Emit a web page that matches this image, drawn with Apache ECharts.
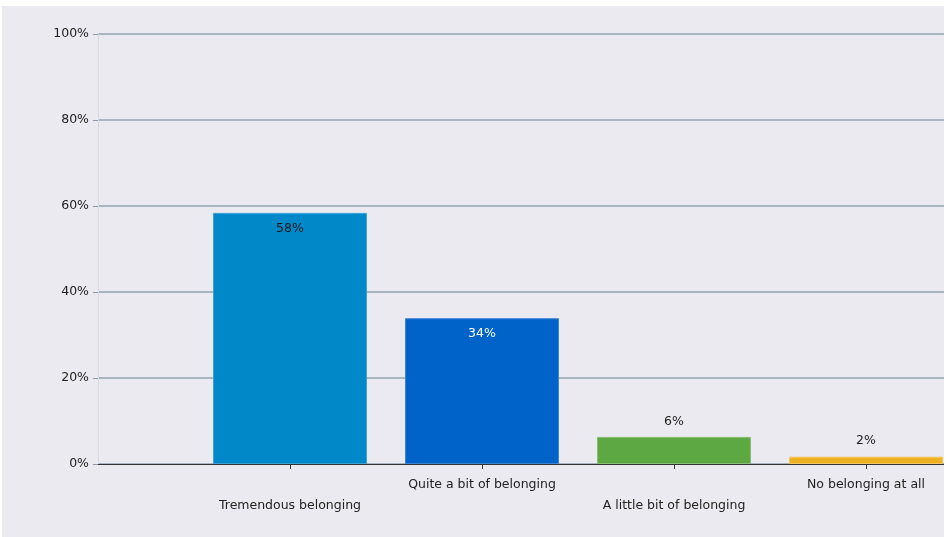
<!DOCTYPE html>
<html>
<head>
<meta charset="utf-8">
<script src="https://cdn.jsdelivr.net/npm/echarts@6/dist/echarts.min.js"></script>
<style>
html,body{margin:0;padding:0;background:#ffffff;width:950px;height:537px;overflow:hidden;}
#wrap{position:absolute;left:2px;top:6px;width:942px;height:531px;overflow:hidden;background:#EBEAF0;}
#chart{position:absolute;left:0;top:0;width:960px;height:531px;}
</style>
</head>
<body>
<div id="wrap"><div id="chart"></div></div>
<script>
// Data
const categories = ['Tremendous belonging', 'Quite a bit of belonging', 'A little bit of belonging', 'No belonging at all'];
const values = [58.4, 33.9, 6.3, 1.7];
const yTicks = [0, 20, 40, 60, 80, 100];

// Styles
const barColors = ['#0088C8', '#0063C9', '#5EA843', '#EEB122'];
const borderColors = ['#3AA3D8', '#3A86D9', '#86C070', '#F3C75E'];
const labelColors = ['#1a1a1a', '#ffffff', '#222222', '#222222'];

const chart = echarts.init(document.getElementById('chart'), null, {renderer: 'canvas'});
const font = 'DejaVu Sans';

const seriesData = values.map((v, i) => ({
  value: [i + 1, v],
  itemStyle: {color: barColors[i], borderColor: borderColors[i], borderWidth: 1},
  label: {
    show: true,
    position: v > 20 ? 'insideTop' : 'top',
    distance: 9,
    color: labelColors[i],
    fontFamily: font,
    fontSize: 12.5,
    formatter: Math.round(v) + '%'
  }
}));

chart.setOption({
  animation: false,
  grid: {left: 96, right: 0, top: 28, bottom: 73, containLabel: false},
  xAxis: {
    type: 'value',
    min: 0,
    max: 4.5,
    interval: 1,
    splitLine: {show: false},
    axisLine: {show: true, lineStyle: {color: '#333333', width: 1}},
    axisTick: {show: true, length: 5, lineStyle: {color: '#333333'}},
    axisLabel: {
      show: true,
      margin: 10,
      color: '#222222',
      fontFamily: font,
      fontSize: 12.5,
      lineHeight: 21,
      showMinLabel: false,
      showMaxLabel: false,
      formatter: function (v) {
        const i = Math.round(v) - 1;
        if (Math.abs(v - Math.round(v)) > 1e-6 || i < 0 || i >= categories.length) return '';
        return (i % 2 === 0 ? '\n' : '') + categories[i];
      }
    }
  },
  yAxis: {
    type: 'value',
    min: 0,
    max: 100,
    interval: 20,
    axisLine: {show: true, lineStyle: {color: '#D3DAE6', width: 1}},
    axisTick: {show: true, length: 5, lineStyle: {color: '#8D9AAB'}},
    axisLabel: {
      margin: 9,
      color: '#222222',
      fontFamily: font,
      fontSize: 12.5,
      formatter: function (v) { return yTicks.includes(v) ? v + '%' : ''; }
    },
    splitLine: {show: true, lineStyle: {color: '#95A1B1', width: 1.5}}
  },
  series: [{
    type: 'bar',
    barWidth: 154,
    data: seriesData,
    z: 3
  }]
});
</script>
</body>
</html>
